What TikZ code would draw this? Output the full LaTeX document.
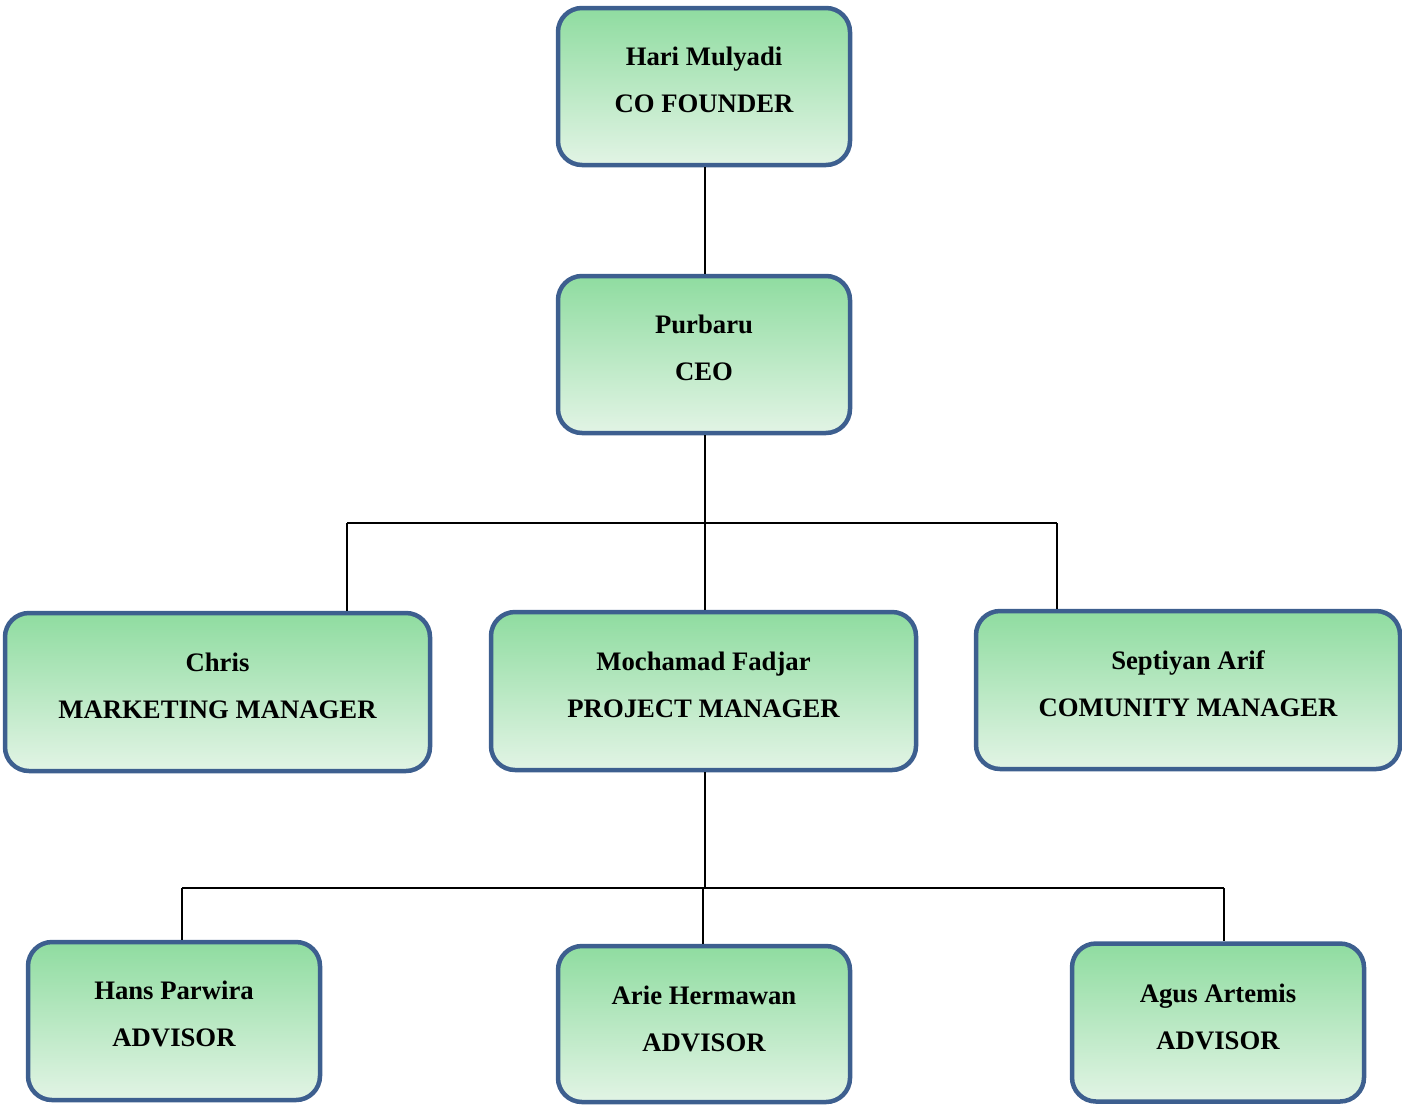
\documentclass[tikz,border=0pt]{standalone}
\usepackage{fontspec}
\setmainfont{Liberation Serif}
\definecolor{boxborder}{RGB}{61,95,143}
\definecolor{boxtop}{RGB}{143,220,160}
\definecolor{boxbot}{RGB}{226,244,229}
\tikzset{
  orgbox/.style={draw=boxborder, line width=4.5pt, rounded corners=24pt,
    top color=boxtop, bottom color=boxbot, inner sep=0pt},
  smallbox/.style={orgbox, minimum width=292pt, minimum height=157pt},
  widebox/.style={orgbox, minimum width=425pt, minimum height=158pt},
  orgtext/.style={align=center, font=\fontsize{26.7}{47}\selectfont\bfseries, inner sep=0pt},
  conn/.style={line width=1.5pt, draw=black}
}
\begin{document}
\begin{tikzpicture}[x=1pt,y=-1pt]
\useasboundingbox (0,0) rectangle (1402,1106);
% boxes
\node[smallbox] (hari) at (704,86.5) {};
\node[smallbox] (purbaru) at (704,354.5) {};
\node[widebox] (chris) at (217.5,692) {};
\node[widebox] (mochamad) at (703.5,691) {};
\node[widebox, minimum width=424pt] (septiyan) at (1188,690) {};
\node[smallbox, minimum height=158pt] (hans) at (174,1021) {};
\node[smallbox, minimum height=156pt] (arie) at (704,1024) {};
\node[smallbox, minimum height=158pt] (agus) at (1218,1022.5) {};
% texts
\node[orgtext] (harit) at ([yshift=6.5pt]hari.center) {Hari Mulyadi\\CO FOUNDER};
\node[orgtext] (purbarut) at ([yshift=6.5pt]purbaru.center) {Purbaru\\CEO};
\node[orgtext] (christ) at ([yshift=6pt]chris.center) {Chris\\MARKETING MANAGER};
\node[orgtext] (mochamadt) at ([yshift=6pt]mochamad.center) {Mochamad Fadjar\\PROJECT MANAGER};
\node[orgtext] (septiyant) at ([yshift=6pt]septiyan.center) {Septiyan Arif\\COMUNITY MANAGER};
\node[orgtext] (hanst) at ([yshift=7pt]hans.center) {Hans Parwira\\ADVISOR};
\node[orgtext] (ariet) at ([yshift=5pt]arie.center) {Arie Hermawan\\ADVISOR};
\node[orgtext] (agust) at ([yshift=6pt]agus.center) {Agus Artemis\\ADVISOR};
% junctions
\coordinate (j1) at (705,523);
\coordinate (j1l) at (347,523);
\coordinate (j1r) at (1057,523);
\coordinate (j2) at (705,888);
\coordinate (j2l) at (182,888);
\coordinate (j2m) at (703,888);
\coordinate (j2r) at (1224,888);
% connectors
\draw[conn] (hari.south -| j1) -- (purbaru.north -| j1);
\draw[conn] (purbaru.south -| j1) -- (mochamad.north -| j1);
\draw[conn] (j1l) -- (j1r);
\draw[conn] (j1l) -- (j1l |- chris.north);
\draw[conn] (j1r) -- (j1r |- septiyan.north);
\draw[conn] (mochamad.south -| j2) -- (j2);
\draw[conn] (j2l) -- (j2r);
\draw[conn] (j2l) -- (j2l |- hans.north);
\draw[conn] (j2m) -- (j2m |- arie.north);
\draw[conn] (j2r) -- (j2r |- agus.north);
\end{tikzpicture}
\end{document}
